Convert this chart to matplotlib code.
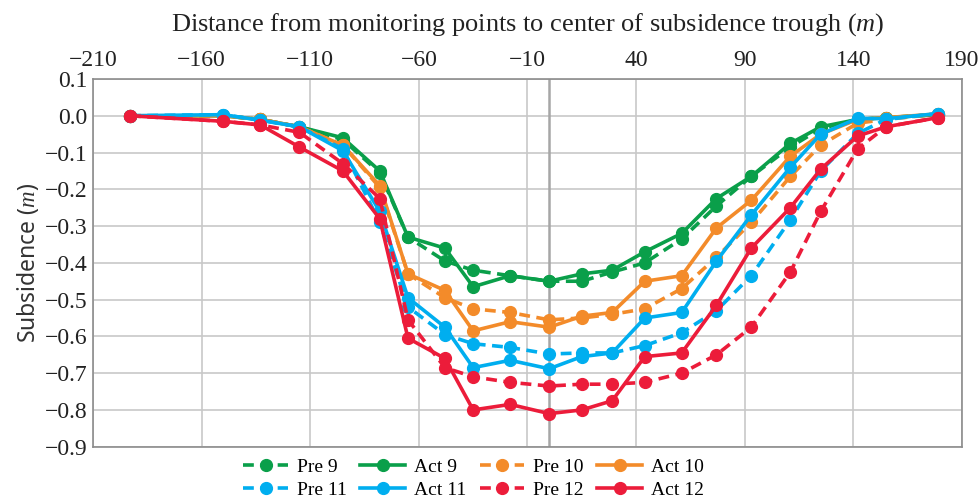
import matplotlib
matplotlib.use("Agg")
import matplotlib.pyplot as plt
from matplotlib.ticker import FuncFormatter, MultipleLocator

plt.rcParams['font.family'] = ['Liberation Serif', 'DejaVu Serif']
plt.rcParams['mathtext.fontset'] = 'custom'
plt.rcParams['mathtext.it'] = 'Liberation Serif:italic'
plt.rcParams['mathtext.rm'] = 'Liberation Serif'

# Abstand zum Muldenzentrum (m)
distance = [-193, -150, -133, -115, -95, -78, -65, -48, -35, -18, 0,
            15, 29, 44, 61, 77, 93, 111, 125, 142, 155, 179]
x_ticks = [-210, -160, -110, -60, -10, 40, 90, 140, 190]

pre9 = [0, 0, -0.01, -0.03, -0.065, -0.155, -0.33, -0.395, -0.42, -0.435, -0.45,
        -0.45, -0.425, -0.40, -0.335, -0.245, -0.165, -0.085, -0.035, -0.01, -0.005, 0.003]
act9 = [0, 0, -0.01, -0.03, -0.06, -0.15, -0.33, -0.36, -0.465, -0.435, -0.45,
        -0.43, -0.42, -0.37, -0.32, -0.225, -0.165, -0.075, -0.03, -0.01, -0.005, 0.003]
pre10 = [0, 0, -0.01, -0.03, -0.08, -0.195, -0.43, -0.495, -0.525, -0.535, -0.555,
         -0.55, -0.54, -0.525, -0.47, -0.385, -0.29, -0.165, -0.08, -0.02, -0.01, 0.005]
act10 = [0, 0, -0.01, -0.03, -0.08, -0.19, -0.43, -0.475, -0.585, -0.56, -0.575,
         -0.545, -0.535, -0.45, -0.435, -0.305, -0.23, -0.11, -0.05, -0.01, -0.005, 0.005]
pre11 = [0, 0.003, -0.012, -0.03, -0.09, -0.29, -0.52, -0.595, -0.62, -0.63, -0.648,
         -0.645, -0.645, -0.625, -0.59, -0.53, -0.435, -0.283, -0.15, -0.048, -0.01, 0.006]
act11 = [0, 0.003, -0.012, -0.03, -0.095, -0.26, -0.495, -0.575, -0.685, -0.665, -0.688,
         -0.655, -0.645, -0.55, -0.535, -0.395, -0.27, -0.14, -0.05, -0.007, -0.008, 0.006]
pre12 = [0, -0.015, -0.025, -0.045, -0.13, -0.225, -0.555, -0.685, -0.71, -0.725, -0.735,
         -0.73, -0.73, -0.725, -0.70, -0.65, -0.575, -0.425, -0.26, -0.09, -0.03, -0.005]
act12 = [0, -0.015, -0.025, -0.085, -0.15, -0.28, -0.605, -0.66, -0.80, -0.785, -0.81,
         -0.80, -0.775, -0.655, -0.645, -0.515, -0.36, -0.25, -0.145, -0.055, -0.03, -0.005]

green = '#0A9F4A'
orange = '#F38B2A'
blue = '#00AEEF'
red = '#EC1C3A'

fig = plt.figure(figsize=(9.79, 5.01), dpi=100)
ax = fig.add_axes([0.095, 0.1084, 0.8876, 0.7339])

dash = (0, (3, 1.8))
series = [
    (pre9, green, dash, 'Pre 9'),
    (act9, green, '-', 'Act 9'),
    (pre10, orange, dash, 'Pre 10'),
    (act10, orange, '-', 'Act 10'),
    (pre11, blue, dash, 'Pre 11'),
    (act11, blue, '-', 'Act 11'),
    (pre12, red, dash, 'Pre 12'),
    (act12, red, '-', 'Act 12'),
]
lines = {}
for vals, col, ls, lab in series:
    ln, = ax.plot(distance, vals, color=col, linestyle=ls, linewidth=2.6,
                  marker='o', markersize=8.5, label=lab, zorder=3)
    lines[lab] = ln

ax.axvline(0, color='#A6A6A6', linewidth=1.8, zorder=1)

ax.set_xlim(-210, 190)
ax.set_ylim(-0.9, 0.1)
ax.set_xticks(x_ticks)
ax.yaxis.set_major_locator(MultipleLocator(0.1))
ax.xaxis.tick_top()
ax.xaxis.set_label_position('top')

fmt_x = FuncFormatter(lambda v, p: f"{v:.0f}".replace('-', '\u2212'))
fmt_y = FuncFormatter(lambda v, p: f"{v:.1f}".replace('-', '\u2212') if abs(v) > 1e-9 else "0.0")
ax.xaxis.set_major_formatter(fmt_x)
ax.yaxis.set_major_formatter(fmt_y)
ax.tick_params(axis='both', length=0, colors='#222222')
ax.tick_params(axis='x', labelsize=17, pad=6)
ax.tick_params(axis='y', labelsize=17, pad=4)

ax.grid(True, color='#C8C8C8', linewidth=1.2, zorder=0)
ax.set_axisbelow(True)
for s in ax.spines.values():
    s.set_color('#8C8C8C')
    s.set_linewidth(1.2)

ax.set_xlabel('Distance from monitoring points to center of subsidence trough ($m$)',
              fontsize=19, labelpad=14, color='#222222')
ax.set_ylabel('Subsidence ($m$)', fontsize=16.5, labelpad=3, color='#333333',
              family=['Noto Sans', 'DejaVu Sans'])

# Legende zeilenweise wie im Original (matplotlib füllt spaltenweise)
order = ['Pre 9', 'Pre 11', 'Act 9', 'Act 11', 'Pre 10', 'Pre 12', 'Act 10', 'Act 12']
fig.legend([lines[k] for k in order], order, loc='center',
           bbox_to_anchor=(0.4837, 0.045), ncol=4, frameon=False,
           fontsize=14, handlelength=2.3, handletextpad=0.45, columnspacing=0.7,
           labelspacing=0.3, borderaxespad=0)

plt.savefig('out.png', dpi=100)
